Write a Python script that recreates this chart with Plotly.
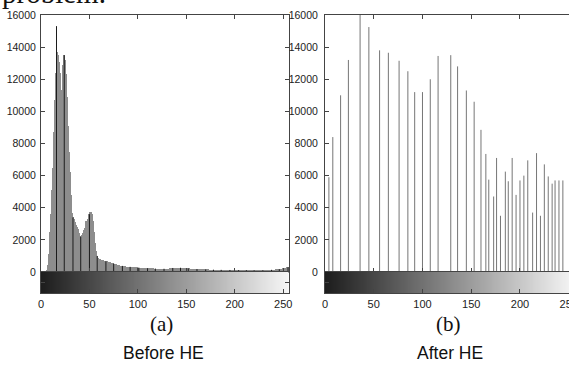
import plotly.graph_objects as go

W, H = 569, 372

# ---------------- data ----------------
gray_levels = list(range(256))

before_counts = [
    0, 0, 0, 0, 0, 30, 150, 450, 1100, 2500,
    3600, 5100, 6500, 8700, 10700, 12400, 15300, 13700, 13500, 13100,
    12400, 11300, 11200, 12900, 13500, 13200, 12300, 10900, 9100, 7500,
    6200, 4800, 3700, 3400, 3300, 3100, 2950, 2800, 2650, 2450,
    2250, 2200, 2300, 2450, 2600, 2750, 3200, 2950, 2800, 3300,
    3600, 3750, 3750, 3600, 3200, 2500, 1800, 1300, 1000, 880,
    820, 780, 760, 740, 720, 700, 690, 670, 660, 650,
    630, 610, 590, 560, 540, 520, 500, 480, 460, 440,
    420, 410, 400, 390, 380, 370, 360, 350, 340, 335,
    330, 325, 320, 315, 310, 305, 300, 295, 290, 285,
    280, 275, 270, 265, 260, 255, 250, 245, 240, 238,
    235, 232, 230, 228, 225, 222, 220, 218, 215, 212,
    210, 208, 206, 205, 204, 203, 202, 201, 200, 200,
    205, 210, 215, 220, 230, 240, 250, 255, 260, 265,
    270, 270, 268, 265, 262, 258, 255, 250, 245, 240,
    235, 230, 225, 220, 215, 210, 205, 200, 195, 190,
    185, 182, 180, 176, 172, 170, 168, 166, 164, 162,
    160, 158, 156, 154, 152, 150, 148, 146, 144, 142,
    140, 139, 138, 137, 136, 135, 134, 133, 132, 131,
    130, 129, 128, 127, 126, 126, 125, 125, 124, 124,
    123, 122, 121, 120, 119, 118, 117, 116, 115, 114,
    113, 112, 111, 110, 109, 108, 107, 106, 105, 104,
    103, 102, 101, 100, 100, 100, 100, 102, 104, 106,
    108, 110, 112, 115, 118, 122, 126, 130, 135, 140,
    145, 150, 155, 160, 165, 170, 175, 180, 190, 200,
    220, 240, 260, 280, 300, 300,
]
# bins that show up as darker lines in the left histogram
dark_bins = [16, 24, 33, 41, 50, 58, 67, 75, 84, 92, 101, 110, 118, 127,
             136, 144, 152, 161, 170, 178, 186, 195, 204, 212, 220, 229,
             238, 246, 255]

after_levels = [4, 8, 16, 24, 36, 45, 56, 65, 76, 85, 92, 100, 108, 116,
                129, 136, 145, 153, 160, 165, 168, 173, 176, 180, 185, 188,
                192, 196, 200, 204, 208, 213, 217, 221, 225, 229, 233, 236,
                240, 244]
after_counts = [5900, 8400, 11000, 13200, 17000, 15250, 13800, 13650, 13150,
                12500, 11200, 11200, 12000, 13450, 13500, 12800, 11300, 10600,
                8850, 7350, 5750, 4700, 7100, 3500, 6250, 5650, 7100, 4800,
                5700, 6000, 6950, 3700, 7400, 3500, 6700, 5950, 5500, 5700,
                5700, 5700]

x_ticks = [0, 50, 100, 150, 200, 250]
y_ticks = [0, 2000, 4000, 6000, 8000, 10000, 12000, 14000, 16000]
panel_labels = ["(a)", "(b)"]
panel_titles = ["Before HE", "After HE"]
top_text = "problem."

# ---------------- helpers ----------------
def fx(p):
    return p / W

def fy(p):
    return 1 - p / H

SANS = "Liberation Sans, Arial, sans-serif"
SERIF = "Liberation Serif, Times New Roman, serif"
LINE = "#444444"

fig = go.Figure()

# left histogram (gray fill)
fig.add_trace(go.Bar(x=gray_levels, y=before_counts, width=1,
                     marker=dict(color="#8d8d8d", line=dict(width=0)),
                     xaxis="x", yaxis="y", hoverinfo="skip"))
# darker lines
sx, sy = [], []
for b in dark_bins:
    sx += [b, b, None]
    sy += [0, before_counts[b], None]
fig.add_trace(go.Scatter(x=sx, y=sy, mode="lines",
                         line=dict(color="#1c1c1c", width=1),
                         xaxis="x", yaxis="y", hoverinfo="skip"))

grad_scale = [[0, "rgb(28,28,28)"], [1, "rgb(246,246,246)"]]
fig.add_trace(go.Heatmap(z=[gray_levels], x=gray_levels, y=[0],
                         colorscale=grad_scale, showscale=False,
                         xaxis="x2", yaxis="y2", hoverinfo="skip"))

# right histogram (stems)
rx, ry = [], []
for lv, c in zip(after_levels, after_counts):
    rx += [lv, lv, None]
    ry += [0, c, None]
fig.add_trace(go.Scatter(x=rx, y=ry, mode="lines",
                         line=dict(color="#767676", width=1),
                         xaxis="x3", yaxis="y3", hoverinfo="skip"))
fig.add_trace(go.Heatmap(z=[gray_levels], x=gray_levels, y=[0],
                         colorscale=grad_scale, showscale=False,
                         xaxis="x4", yaxis="y4", hoverinfo="skip"))

common = dict(showgrid=False, zeroline=False, showline=True, linecolor=LINE,
              linewidth=1, ticks="inside", ticklen=4, tickcolor=LINE,
              automargin=False, tickformat="d", ticklabeloverflow="allow")
tickfont_y = dict(family=SANS, size=10.5, color="#222222")
tickfont_x = dict(family=SANS, size=11, color="#222222")

L0, L1 = fx(41), fx(289)
R0, R1 = fx(325), 1.0
H0, H1 = fy(272), fy(15)
G0, G1 = fy(293), fy(272)

fig.update_layout(
    width=W, height=H, margin=dict(l=0, r=0, t=0, b=0, autoexpand=False),
    paper_bgcolor="white", plot_bgcolor="white", showlegend=False,
    bargap=0,
    xaxis=dict(domain=[L0, L1], range=[0, 256], anchor="y", tickvals=x_ticks,
               showticklabels=False, mirror="ticks", **common),
    yaxis=dict(domain=[H0, H1], range=[0, 16000], anchor="x", tickvals=y_ticks,
               tickfont=tickfont_y, mirror="ticks", ticklabelstandoff=2, **common),
    xaxis2=dict(domain=[L0, L1], range=[0, 256], anchor="y2", tickvals=x_ticks,
                tickfont=tickfont_x, mirror=True, ticklabelstandoff=1, **common),
    yaxis2=dict(domain=[G0, G1], range=[-0.5, 0.5], anchor="x2", tickvals=[0],
                showticklabels=False, mirror="ticks", **common),
    xaxis3=dict(domain=[R0, R1], range=[0, 250.3], anchor="y3", tickvals=x_ticks,
                showticklabels=False, mirror="ticks", **common),
    yaxis3=dict(domain=[H0, H1], range=[0, 16000], anchor="x3", tickvals=y_ticks,
                tickfont=tickfont_y, mirror=False, ticklabelstandoff=4, **common),
    xaxis4=dict(domain=[R0, R1], range=[0, 250.3], anchor="y4", tickvals=x_ticks,
                tickfont=tickfont_x, mirror=True, ticklabelstandoff=1, **common),
    yaxis4=dict(domain=[G0, G1], range=[-0.5, 0.5], anchor="x4", tickvals=[0],
                showticklabels=False, mirror=False, **common),
)

ann = []
for lab, tit, cx in zip(panel_labels, panel_titles, [161, 448]):
    ann.append(dict(text=lab, x=fx(cx), y=fy(324), xref="paper", yref="paper",
                    showarrow=False, xanchor="center", yanchor="middle",
                    font=dict(family=SERIF, size=21, color="#111111")))
    ann.append(dict(text=tit, x=fx(cx + 2), y=fy(353), xref="paper", yref="paper",
                    showarrow=False, xanchor="center", yanchor="middle",
                    font=dict(family=SANS, size=17.5, color="#111111")))
ann.append(dict(text=top_text, x=0, y=fy(11), xref="paper", yref="paper",
                showarrow=False, xanchor="left", yanchor="bottom",
                font=dict(family=SERIF, size=29, color="#111111")))
fig.update_layout(annotations=ann)

# remove the page's default body margin so the figure sits at the window's corner
fig.write_html("out.html",
               config={"displayModeBar": False},
               post_script="document.body.style.margin='0';"
                           "document.body.style.overflow='hidden';")
